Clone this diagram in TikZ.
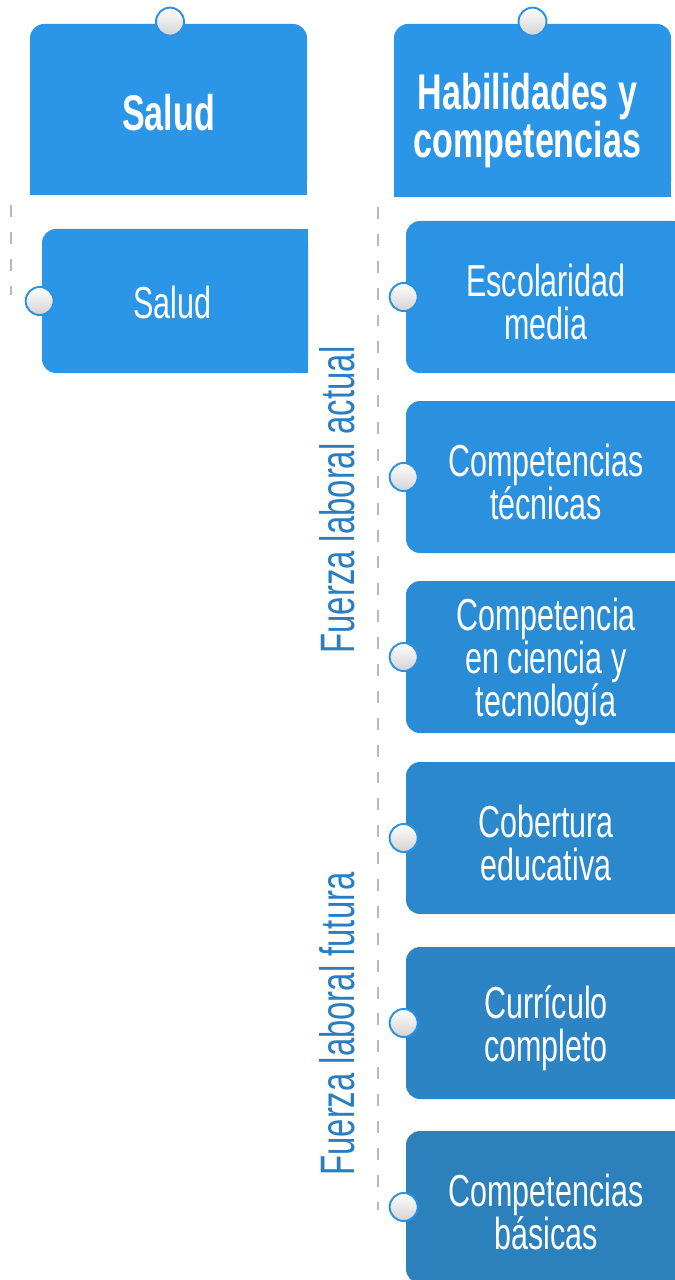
\documentclass[tikz,border=0pt]{standalone}
\usepackage{fontspec}
\setmainfont{Liberation Sans}[FakeStretch=0.68]
\usetikzlibrary{calc}
\usetikzlibrary{backgrounds}
\definecolor{azulA}{HTML}{2B95E8}
\definecolor{azulB}{HTML}{2C80BC}
\definecolor{azulTexto}{HTML}{297DC0}
\def\pix{0.02cm}
% una rama: nombre, altura, texto, mezcla de color
\def\rama#1#2#3#4{
  \node [hijo, fill=azulB!#4!azulA, minimum width=280*\pix,
    minimum height=152*\pix] (#1) at (546,#2) {};
  \begin{scope}[on background layer]
    % esquinas derechas sin redondear
    \fill [azulB!#4!azulA] (#1.north) rectangle (#1.south east);
  \end{scope}
  \node [texto] (#1-t) at ($(#1.center)+(0,5)$) {#3};
  \node [perilla] (#1-p) at ($(#1.west)+(-2,0)$) {};
}

\begin{document}
\begin{tikzpicture}[x=\pix, y=-\pix,
  cabeza/.style={shape=rectangle, rounded corners=0.28cm, fill=azulA,
    inner sep=0pt},
  hijo/.style={shape=rectangle, rounded corners=0.28cm, inner sep=0pt},
  titulo/.style={text=white, align=center, inner sep=0pt,
    font=\bfseries\fontsize{28.5}{23.8}\selectfont},
  texto/.style={text=white, align=center, inner sep=0pt,
    font=\fontsize{25.5}{24.4}\selectfont},
  perilla/.style={circle, minimum size=28*\pix, inner sep=0pt,
    line width=1.1pt, draw=azulA!85!azulB, top color=white,
    bottom color=gray!35},
  eje/.style={gray!55, line width=1.1pt, dash pattern=on 6.8pt off 8.5pt},
  etiqueta/.style={rotate=90, text=azulTexto, inner sep=0pt,
    font=\fontsize{27.5}{28}\selectfont}]
\useasboundingbox (0,0) rectangle (674,1280);

% Cabezas de columna
\node [cabeza, minimum width=277*\pix, minimum height=171*\pix]
  (salud) at (168.5,109.5) {};
\node [cabeza, minimum width=277*\pix, minimum height=173*\pix]
  (habil) at (532.5,110.5) {};
\begin{scope}[on background layer]
  \fill [azulA] (salud.west) rectangle (salud.south east);
  \fill [azulA] (habil.west) rectangle (habil.south east);
\end{scope}
\node [titulo] (salud-t) at ($(salud.center)+(0,3)$) {Salud};
\node [titulo] (habil-t) at ($(habil.center)+(-5,10)$)
  {Habilidades y\\competencias};
\node [perilla] (salud-p) at ($(salud.north)+(1.5,-2)$) {};
\node [perilla] (habil-p) at (salud-p -| habil.north) {};

% Ejes punteados
\coordinate (ejeS-a) at (11,205);
\coordinate (ejeS-b) at (11,295);
\coordinate (ejeH-a) at (378,207);
\coordinate (ejeH-b) at (378,1210);
\draw [eje] (ejeS-a) -- (ejeS-b);
\draw [eje] (ejeH-a) -- (ejeH-b);

% Rama de salud
\node [hijo, fill=azulA, minimum width=266*\pix, minimum height=144*\pix]
  (salud-h) at (175,301) {};
\begin{scope}[on background layer]
  \fill [azulA] (salud-h.north) rectangle (salud-h.south east);
\end{scope}
\node [texto] (salud-h-t) at ($(salud-h.center)+(-3,1)$) {Salud};
\node [perilla] (salud-h-p) at ($(salud-h.west)+(-2,0)$) {};

% Ramas de habilidades
\rama{escolaridad}{297}{Escolaridad\\media}{9}
\rama{tecnicas}{477}{Competencias\\técnicas}{25}
\rama{ciencia}{657}{Competencia\\en ciencia y\\tecnología}{41}
\rama{cobertura}{838}{Cobertura\\educativa}{64}
\rama{curriculo}{1023}{Currículo\\completo}{82}
\rama{basicas}{1207}{Competencias\\básicas}{100}

% Etiquetas verticales
\node [etiqueta] (actual) at (337,500) {Fuerza laboral actual};
\node [etiqueta] (futura) at (337,1024) {Fuerza laboral futura};
\end{tikzpicture}
\end{document}
